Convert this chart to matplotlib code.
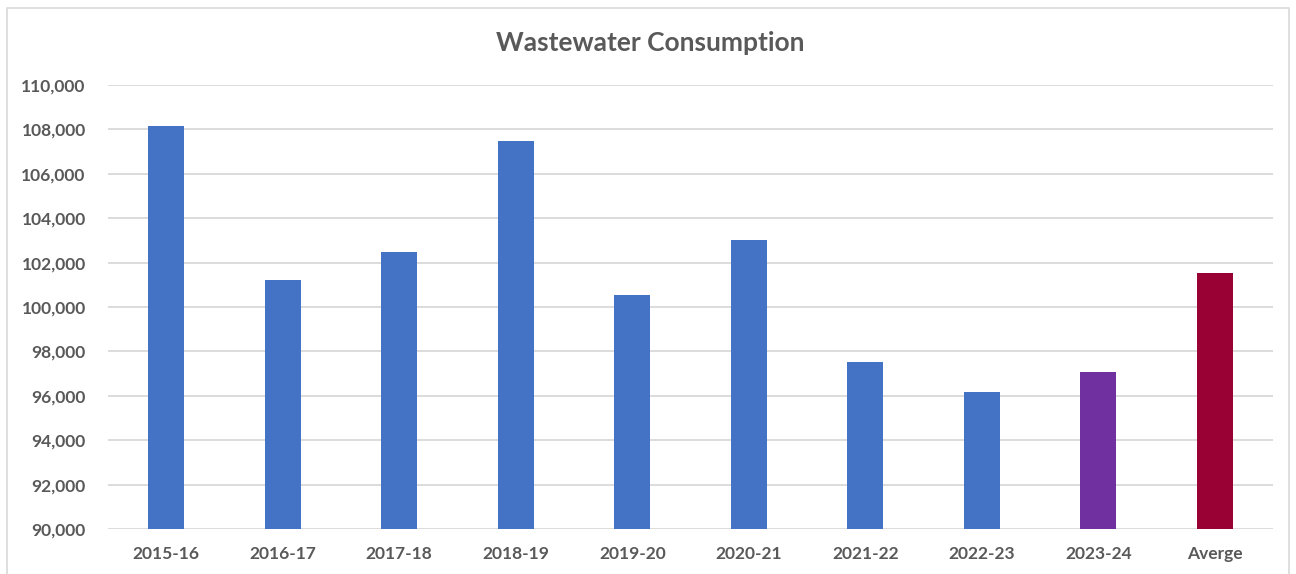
import matplotlib.pyplot as plt
from matplotlib.patches import Rectangle
from matplotlib.ticker import FuncFormatter

# values
years = ['2015-16', '2016-17', '2017-18', '2018-19', '2019-20',
         '2020-21', '2021-22', '2022-23', '2023-24', 'Averge']
consumption = [108150, 101200, 102500, 107500, 100520,
               103000, 97520, 96170, 97060, 101550]
bar_colors = ['#4472C4'] * 8 + ['#7030A0', '#990033']

plt.rcParams['font.family'] = ['Lato', 'DejaVu Sans']

fig = plt.figure(figsize=(12.96, 5.74), dpi=100)
ax = fig.add_axes([108 / 1296, 1 - 529 / 574, 1165 / 1296, 444 / 574])

x = range(len(years))
ax.bar(x, consumption, width=0.31, color=bar_colors, zorder=3)

ax.set_xlim(-0.5, len(years) - 0.5)
ax.set_ylim(90000, 110000)
ax.set_yticks(range(90000, 110001, 2000))
ax.yaxis.set_major_formatter(FuncFormatter(lambda v, p: f'{int(v):,}'))
ax.set_xticks(list(x))
ax.set_xticklabels(years)

ax.grid(axis='y', color='#D9D9D9', linewidth=1.3, zorder=0)
for s in ax.spines.values():
    s.set_visible(False)
ax.tick_params(axis='both', length=0, labelsize=12.5, labelcolor='#595959')
ax.tick_params(axis='y', pad=16)
ax.tick_params(axis='x', pad=12)
for lbl in ax.get_xticklabels() + ax.get_yticklabels():
    lbl.set_fontweight('bold')

fig.text(650 / 1296, 1 - 43 / 574, 'Wastewater Consumption', ha='center', va='center',
         fontsize=19, fontweight='bold', color='#595959')

# chart border
fig.patches.append(Rectangle((7 / 1296, -0.02), 1282 / 1296, 1.02 - 8 / 574,
                             transform=fig.transFigure, fill=False,
                             edgecolor='#D9D9D9', linewidth=1.2))

fig.savefig('out.png', dpi=100)
